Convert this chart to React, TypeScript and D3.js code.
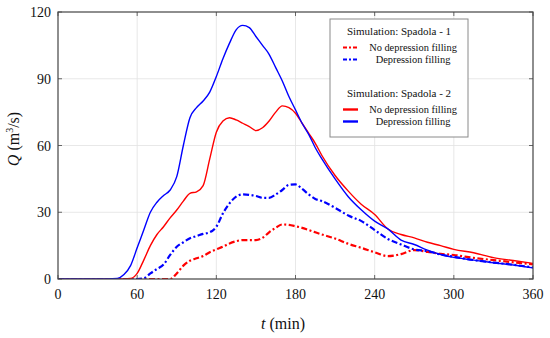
import React from "react";
import * as d3 from "d3";

const T = [0, 30, 45, 50, 55, 60, 65, 70, 75, 80, 85, 90, 95, 100, 105, 110, 115, 120, 125, 130, 135, 140, 145, 150, 155, 160, 165, 170, 175, 180, 185, 190, 195, 200, 210, 220, 230, 240, 250, 260, 270, 280, 290, 300, 315, 330, 345, 360];

const blue2 = [0, 0, 0.3, 2, 6, 14, 22, 30, 34.5, 37.5, 40, 46, 60, 72.5, 77, 80, 84, 91, 99, 106, 112, 114, 113, 109, 105, 101, 95, 89, 82, 76, 70, 65, 59, 54, 45, 37, 31, 26, 22.5, 17.5, 15.5, 13, 11, 9.7, 8.5, 7.3, 6.3, 5];
const red2 = [0, 0, 0, 0, 0.2, 2.5, 8.5, 15, 20, 23.5, 27.5, 31, 35, 38.5, 39.2, 42, 54, 66, 71, 72.5, 71.5, 70, 68.5, 66.7, 68, 71, 75, 77.8, 77, 74.5, 70, 65.5, 61, 55.5, 46.5, 39.5, 33.5, 29, 22.5, 20, 18.5, 16.5, 15, 13.3, 11.8, 9.6, 8.3, 7];
const blue1 = [0, 0, 0, 0, 0, 0, 0.3, 2.5, 4.5, 6.5, 10.8, 14.5, 16.5, 18.3, 19.3, 20.3, 21, 23.5, 29.5, 34, 37, 38, 37.8, 37.3, 36.5, 36.5, 38, 40, 42.3, 42.5, 40.5, 38, 36, 35, 32, 28.5, 26, 22, 18, 15.5, 13.3, 12.5, 11, 10, 8.5, 7.4, 6.4, 5.2];
const red1 = [0, 0, 0, 0, 0, 0, 0, 0, 0, 0, 0, 2.5, 6, 8.2, 9.3, 10.3, 12, 13.3, 14.5, 16, 17, 17.5, 17.5, 17.5, 18.5, 21, 23, 24.5, 24.3, 23.7, 23, 22, 21, 20, 18.2, 15.8, 14, 12, 10.3, 11.2, 13, 12.2, 11.3, 10.8, 9.5, 8.5, 7.5, 6.6];

const xTicks = [0, 60, 120, 180, 240, 300, 360];
const yTicks = [0, 30, 60, 90, 120];

const legendGroups = ["Simulation: Spadola - 1", "Simulation: Spadola - 2"];
const legendItems = ["No depression filling", "Depression filling"];

const W = 550, H = 338;
const L = 58, R = 533, TOP = 12, B = 279;
const DASH = "6,2.5,2,2.5";
const FONT = '"Liberation Serif"';

export default function App() {
  const x = d3.scaleLinear().domain([0, 360]).range([L, R]);
  const y = d3.scaleLinear().domain([0, 120]).range([B, TOP]);
  const line = d3
    .line<number>()
    .x((_, i) => x(T[i]))
    .y((d) => y(d))
    .curve(d3.curveMonotoneX);

  const series = [
    { data: red1, color: "#ff0000", dash: DASH, w: 2.2 },
    { data: blue1, color: "#0000ff", dash: DASH, w: 2.2 },
    { data: red2, color: "#ff0000", dash: null, w: 1.4 },
    { data: blue2, color: "#0000ff", dash: null, w: 1.4 },
  ];

  const lx = 330, ly = 19, lw = 138, lh = 118;
  const ts = { fontFamily: FONT };

  return (
    <div style={{ position: "absolute", left: 0, top: 0 }}>
      <svg width={W} height={H} style={{ display: "block", background: "#fff" }}>
        <rect x={0} y={0} width={W} height={H} fill="#fff" />
        {xTicks.slice(1, -1).map((t) => (
          <line key={"gx" + t} x1={x(t)} x2={x(t)} y1={TOP} y2={B} stroke="#e2e2e2" strokeWidth={0.8} />
        ))}
        {yTicks.slice(1, -1).map((t) => (
          <line key={"gy" + t} x1={L} x2={R} y1={y(t)} y2={y(t)} stroke="#e2e2e2" strokeWidth={0.8} />
        ))}
        <defs>
          <clipPath id="clip">
            <rect x={L} y={TOP} width={R - L} height={B - TOP} />
          </clipPath>
        </defs>
        <g clipPath="url(#clip)">
          {series.map((s, i) => (
            <path
              key={i}
              d={line(s.data) || ""}
              fill="none"
              stroke={s.color}
              strokeWidth={s.w}
              strokeDasharray={s.dash || undefined}
            />
          ))}
        </g>
        {xTicks.map((t) => (
          <g key={"tx" + t}>
            <line x1={x(t)} x2={x(t)} y1={B} y2={B - 4} stroke="#444" strokeWidth={0.8} />
            <line x1={x(t)} x2={x(t)} y1={TOP} y2={TOP + 4} stroke="#444" strokeWidth={0.8} />
            <text x={x(t)} y={298.5} textAnchor="middle" fontSize={14} fill="#111" style={ts}>
              {t}
            </text>
          </g>
        ))}
        {yTicks.map((t) => (
          <g key={"ty" + t}>
            <line x1={L} x2={L + 4} y1={y(t)} y2={y(t)} stroke="#444" strokeWidth={0.8} />
            <line x1={R} x2={R - 4} y1={y(t)} y2={y(t)} stroke="#444" strokeWidth={0.8} />
            <text x={51} y={y(t) + 5} textAnchor="end" fontSize={14} fill="#111" style={ts}>
              {t}
            </text>
          </g>
        ))}
        <rect x={L} y={TOP} width={R - L} height={B - TOP} fill="none" stroke="#444" strokeWidth={1.2} />
        <text x={283} y={329} textAnchor="middle" fontSize={16} fill="#111" style={ts}>
          <tspan fontStyle="italic">t</tspan> (min)
        </text>
        <text
          transform={`translate(19,139) rotate(-90)`}
          textAnchor="middle"
          fontSize={16}
          fill="#111"
          style={ts}
        >
          <tspan fontStyle="italic">Q</tspan> (m
          <tspan fontSize={10} dy={-6}>3</tspan>
          <tspan dy={6}>/s)</tspan>
        </text>
        <g>
          <rect x={lx} y={ly} width={lw} height={lh} fill="#fff" stroke="#8a8a8a" strokeWidth={1} />
          {legendGroups.map((g, gi) => {
            const gy = ly + 16 + gi * 62;
            return (
              <g key={g}>
                <text x={lx + lw / 2} y={gy} textAnchor="middle" fontSize={11} fill="#111" style={ts}>
                  {g}
                </text>
                {legendItems.map((it, ii) => {
                  const iy = gy + 12.5 + ii * 12;
                  const color = ii === 0 ? "#ff0000" : "#0000ff";
                  return (
                    <g key={it}>
                      <line
                        x1={lx + 13}
                        x2={lx + 28}
                        y1={iy}
                        y2={iy}
                        stroke={color}
                        strokeWidth={gi === 0 ? 2.2 : 2.4}
                        strokeDasharray={gi === 0 ? "4,2,2,2" : undefined}
                      />
                      <text x={lx + 83} y={iy + 3.5} textAnchor="middle" fontSize={10.4} fill="#111" style={ts}>
                        {it}
                      </text>
                    </g>
                  );
                })}
              </g>
            );
          })}
        </g>
      </svg>
    </div>
  );
}
